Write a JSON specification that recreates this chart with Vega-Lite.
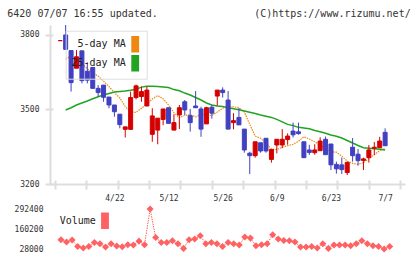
{
  "$schema": "https://vega.github.io/schema/vega-lite/v6.json",
  "background": "white",
  "padding": {"left": 7, "top": 8, "right": 4, "bottom": 3},
  "title": {
    "text": "6420 07/07 16:55 updated.\u00a0\u00a0\u00a0\u00a0\u00a0\u00a0\u00a0\u00a0\u00a0\u00a0\u00a0\u00a0\u00a0\u00a0\u00a0\u00a0(C)https://www.rizumu.net/",
    "anchor": "start",
    "frame": "group",
    "dx": -42.7,
    "offset": 6,
    "font": "DejaVu Sans Mono",
    "fontSize": 10,
    "fontWeight": "normal",
    "color": "#333333"
  },
  "datasets": {
    "prices": [
      {"date":"4/8","i":-1,"open":3777,"high":3777,"low":3777,"close":3777,"volume":null,"ma5":null,"ma25":null},
      {"date":"4/9","i":0,"open":3800,"high":3840,"low":3742,"close":3742,"volume":89000,"ma5":3702,"ma25":3498},
      {"date":"4/10","i":1,"open":3737,"high":3737,"low":3572,"close":3608,"volume":74000,"ma5":3716,"ma25":3507},
      {"date":"4/13","i":2,"open":3666,"high":3739,"low":3666,"close":3712,"volume":87000,"ma5":3702,"ma25":3518},
      {"date":"4/14","i":3,"open":3736,"high":3736,"low":3605,"close":3616,"volume":45000,"ma5":3684,"ma25":3526},
      {"date":"4/15","i":4,"open":3654,"high":3690,"low":3605,"close":3618,"volume":35000,"ma5":3664,"ma25":3534},
      {"date":"4/16","i":5,"open":3669,"high":3669,"low":3585,"close":3585,"volume":45000,"ma5":3648,"ma25":3543},
      {"date":"4/17","i":6,"open":3585,"high":3598,"low":3552,"close":3568,"volume":71000,"ma5":3634,"ma25":3551},
      {"date":"4/20","i":7,"open":3598,"high":3598,"low":3531,"close":3549,"volume":63000,"ma5":3614,"ma25":3558},
      {"date":"4/21","i":8,"open":3550,"high":3550,"low":3505,"close":3518,"volume":41000,"ma5":3592,"ma25":3564},
      {"date":"4/22","i":9,"open":3518,"high":3518,"low":3471,"close":3491,"volume":63000,"ma5":3568,"ma25":3570},
      {"date":"4/23","i":10,"open":3481,"high":3481,"low":3424,"close":3439,"volume":48000,"ma5":3546,"ma25":3572},
      {"date":"4/24","i":11,"open":3420,"high":3430,"low":3387,"close":3430,"volume":43000,"ma5":3512,"ma25":3574},
      {"date":"4/27","i":12,"open":3420,"high":3572,"low":3420,"close":3548,"volume":56000,"ma5":3490,"ma25":3577},
      {"date":"4/28","i":13,"open":3548,"high":3600,"low":3540,"close":3595,"volume":54000,"ma5":3488,"ma25":3581},
      {"date":"4/30","i":14,"open":3552,"high":3592,"low":3531,"close":3572,"volume":80000,"ma5":3505,"ma25":3590},
      {"date":"5/1","i":15,"open":3514,"high":3592,"low":3514,"close":3578,"volume":56000,"ma5":3522,"ma25":3593},
      {"date":"5/7","i":16,"open":3400,"high":3505,"low":3370,"close":3474,"volume":292400,"ma5":3542,"ma25":3593},
      {"date":"5/8","i":17,"open":3417,"high":3465,"low":3360,"close":3465,"volume":104000,"ma5":3556,"ma25":3592},
      {"date":"5/11","i":18,"open":3460,"high":3502,"low":3437,"close":3502,"volume":71000,"ma5":3543,"ma25":3590},
      {"date":"5/12","i":19,"open":3507,"high":3507,"low":3444,"close":3444,"volume":71000,"ma5":3518,"ma25":3588},
      {"date":"5/13","i":20,"open":3417,"high":3481,"low":3417,"close":3447,"volume":82000,"ma5":3487,"ma25":3580},
      {"date":"5/14","i":21,"open":3478,"high":3518,"low":3421,"close":3507,"volume":63000,"ma5":3467,"ma25":3575},
      {"date":"5/15","i":22,"open":3531,"high":3538,"low":3478,"close":3498,"volume":32000,"ma5":3476,"ma25":3566},
      {"date":"5/18","i":23,"open":3475,"high":3502,"low":3411,"close":3447,"volume":89000,"ma5":3479,"ma25":3558},
      {"date":"5/19","i":24,"open":3514,"high":3574,"low":3507,"close":3507,"volume":94000,"ma5":3470,"ma25":3548},
      {"date":"5/20","i":25,"open":3502,"high":3511,"low":3390,"close":3421,"volume":115000,"ma5":3480,"ma25":3538},
      {"date":"5/21","i":26,"open":3442,"high":3511,"low":3442,"close":3507,"volume":63000,"ma5":3478,"ma25":3526},
      {"date":"5/22","i":27,"open":3509,"high":3518,"low":3463,"close":3485,"volume":71000,"ma5":3476,"ma25":3518},
      {"date":"5/25","i":28,"open":3554,"high":3578,"low":3515,"close":3578,"volume":63000,"ma5":3490,"ma25":3514},
      {"date":"5/26","i":29,"open":3578,"high":3589,"low":3548,"close":3568,"volume":45000,"ma5":3505,"ma25":3512},
      {"date":"5/27","i":30,"open":3538,"high":3574,"low":3421,"close":3421,"volume":71000,"ma5":3510,"ma25":3507},
      {"date":"5/28","i":31,"open":3447,"high":3485,"low":3420,"close":3455,"volume":63000,"ma5":3511,"ma25":3503},
      {"date":"5/29","i":32,"open":3468,"high":3505,"low":3438,"close":3438,"volume":54000,"ma5":3507,"ma25":3499},
      {"date":"6/1","i":33,"open":3421,"high":3421,"low":3326,"close":3337,"volume":107000,"ma5":3490,"ma25":3494},
      {"date":"6/2","i":34,"open":3324,"high":3330,"low":3240,"close":3314,"volume":100000,"ma5":3440,"ma25":3489},
      {"date":"6/3","i":35,"open":3314,"high":3370,"low":3306,"close":3370,"volume":50000,"ma5":3393,"ma25":3484},
      {"date":"6/4","i":36,"open":3366,"high":3366,"low":3326,"close":3333,"volume":56000,"ma5":3384,"ma25":3478},
      {"date":"6/5","i":37,"open":3384,"high":3384,"low":3326,"close":3333,"volume":63000,"ma5":3365,"ma25":3473},
      {"date":"6/8","i":38,"open":3299,"high":3339,"low":3286,"close":3339,"volume":122000,"ma5":3341,"ma25":3468},
      {"date":"6/9","i":39,"open":3357,"high":3380,"low":3323,"close":3380,"volume":94000,"ma5":3338,"ma25":3460},
      {"date":"6/10","i":40,"open":3357,"high":3421,"low":3344,"close":3380,"volume":84000,"ma5":3348,"ma25":3450},
      {"date":"6/11","i":41,"open":3379,"high":3404,"low":3358,"close":3393,"volume":82000,"ma5":3354,"ma25":3440},
      {"date":"6/12","i":42,"open":3413,"high":3447,"low":3387,"close":3398,"volume":74000,"ma5":3360,"ma25":3435},
      {"date":"6/15","i":43,"open":3410,"high":3447,"low":3398,"close":3403,"volume":41000,"ma5":3372,"ma25":3428},
      {"date":"6/16","i":44,"open":3370,"high":3370,"low":3306,"close":3306,"volume":41000,"ma5":3390,"ma25":3425},
      {"date":"6/17","i":45,"open":3337,"high":3358,"low":3317,"close":3327,"volume":45000,"ma5":3381,"ma25":3422},
      {"date":"6/18","i":46,"open":3326,"high":3360,"low":3318,"close":3337,"volume":35000,"ma5":3370,"ma25":3415},
      {"date":"6/19","i":47,"open":3334,"high":3388,"low":3334,"close":3373,"volume":63000,"ma5":3357,"ma25":3410},
      {"date":"6/22","i":48,"open":3380,"high":3391,"low":3318,"close":3318,"volume":32000,"ma5":3342,"ma25":3404},
      {"date":"6/23","i":49,"open":3361,"high":3361,"low":3256,"close":3277,"volume":54000,"ma5":3330,"ma25":3397},
      {"date":"6/24","i":50,"open":3279,"high":3290,"low":3242,"close":3261,"volume":54000,"ma5":3328,"ma25":3392},
      {"date":"6/25","i":51,"open":3277,"high":3306,"low":3240,"close":3258,"volume":54000,"ma5":3312,"ma25":3385},
      {"date":"6/26","i":52,"open":3246,"high":3290,"low":3236,"close":3287,"volume":50000,"ma5":3292,"ma25":3375},
      {"date":"6/29","i":53,"open":3348,"high":3385,"low":3290,"close":3314,"volume":63000,"ma5":3283,"ma25":3365},
      {"date":"6/30","i":54,"open":3320,"high":3341,"low":3274,"close":3294,"volume":82000,"ma5":3279,"ma25":3355},
      {"date":"7/1","i":55,"open":3295,"high":3306,"low":3256,"close":3301,"volume":63000,"ma5":3286,"ma25":3346},
      {"date":"7/2","i":56,"open":3306,"high":3357,"low":3286,"close":3337,"volume":50000,"ma5":3302,"ma25":3344},
      {"date":"7/3","i":57,"open":3344,"high":3369,"low":3317,"close":3348,"volume":45000,"ma5":3318,"ma25":3342},
      {"date":"7/6","i":58,"open":3346,"high":3390,"low":3346,"close":3373,"volume":28000,"ma5":3334,"ma25":3340},
      {"date":"7/7","i":59,"open":3408,"high":3424,"low":3354,"close":3354,"volume":45000,"ma5":3344,"ma25":3337}
    ]
  },
  "data": {"name": "prices"},
  "spacing": 25,
  "bounds": "flush",
  "vconcat": [
    {
      "width": 355,
      "height": 159,
      "layer": [
        {
          "mark": {"type": "line", "strokeWidth": 1.2, "strokeDash": [1.5, 1]},
          "encoding": {
            "x": {
              "field": "i", "type": "quantitative",
              "scale": {"domain": [-1.97, 61.75], "nice": false, "zero": false},
              "axis": {
                "orient": "bottom", "title": null, "labels": false, "domain": false,
                "values": [-1.97, 3.823, 9.615, 15.408, 21.201, 26.994, 32.786, 38.579, 44.372, 50.164, 55.957, 61.75],
                "tickSize": 9, "offset": -4, "tickColor": "#dddddd", "tickWidth": 2, "grid": false
              }
            },
            "y": {
              "field": "ma5", "type": "quantitative",
              "scale": {"domain": [3200, 3840], "nice": false, "zero": false},
              "axis": {
                "orient": "left", "title": null, "labels": false, "domain": false,
                "values": [3200, 3500, 3800],
                "tickSize": 8, "offset": -3, "tickColor": "#dddddd", "tickWidth": 2, "grid": false
              }
            },
            "color": {
              "datum": "5-day MA", "type": "nominal",
              "scale": {"domain": ["5-day MA", "25-day MA"], "range": ["#ee8811", "#22a322"]},
              "legend": {
                "orient": "none", "legendX": 15.7, "legendY": 5.7, "title": null,
                "padding": 5, "strokeColor": "#dddddd",
                "symbolType": "M-0.42,-1H0.42V1H-0.42Z", "symbolSize": 225,
                "symbolStrokeWidth": 1.5, "symbolStrokeColor": "#333333",
                "labelFont": "DejaVu Sans Mono", "labelFontSize": 10, "labelColor": "#222222",
                "labelAlign": "right", "labelOffset": -18, "symbolOffset": 56,
                "rowPadding": -3,
                "encode": {
                  "symbols": {
                    "update": {
                      "fill": {"signal": "scale('concat_0_color', datum.value)"}
                    }
                  }
                }
              }
            }
          }
        },
        {
          "mark": {"type": "line", "strokeWidth": 1.5},
          "encoding": {
            "x": {
              "field": "i", "type": "quantitative",
              "axis": {
                "orient": "bottom", "title": null, "ticks": false, "domain": true,
                "domainColor": "#dddddd", "domainWidth": 2,
                "values": [9, 19, 29, 39, 49, 59],
                "labelExpr": "data('prices')[datum.value + 1].date",
                "labelPadding": 10, "labelFlush": false, "labelOverlap": false,
                "labelFont": "DejaVu Sans Mono", "labelFontSize": 8, "labelColor": "#333333", "grid": false
              }
            },
            "y": {
              "field": "ma25", "type": "quantitative",
              "axis": {
                "orient": "left", "title": null, "ticks": false, "domain": true,
                "domainColor": "#dddddd", "domainWidth": 2,
                "values": [3200, 3500, 3800], "format": "d",
                "labelPadding": 11, "labelFlush": false, "labelOverlap": false,
                "labelFont": "DejaVu Sans Mono", "labelFontSize": 8, "labelColor": "#333333", "grid": false
              }
            },
            "color": {"datum": "25-day MA", "type": "nominal"}
          }
        },
        {
          "mark": {"type": "rule", "strokeWidth": 1},
          "encoding": {
            "x": {"field": "i", "type": "quantitative", "axis": null},
            "y": {"field": "low", "type": "quantitative", "axis": null},
            "y2": {"field": "high"},
            "color": {"condition": {"test": "datum.close >= datum.open", "value": "#d40000"}, "value": "#4040c0"}
          }
        },
        {
          "mark": {"type": "bar", "size": 4, "strokeWidth": 1},
          "encoding": {
            "x": {"field": "i", "type": "quantitative", "axis": null},
            "y": {"field": "open", "type": "quantitative", "axis": null},
            "y2": {"field": "close"},
            "color": {"condition": {"test": "datum.close >= datum.open", "value": "#d40000"}, "value": "#4040c0"},
            "stroke": {"condition": {"test": "datum.close >= datum.open", "value": "#d40000"}, "value": "#4040c0"}
          }
        }
      ],
      "resolve": {"axis": {"x": "independent", "y": "independent"}}
    },
    {
      "width": 355,
      "height": 40,
      "layer": [
        {
          "mark": {"type": "line", "strokeWidth": 1, "strokeDash": [1.5, 1]},
          "encoding": {
            "x": {
              "field": "i", "type": "quantitative",
              "scale": {"domain": [-1.97, 61.75], "nice": false, "zero": false},
              "axis": null
            },
            "y": {
              "field": "volume", "type": "quantitative",
              "scale": {"domain": [28000, 292400], "nice": false, "zero": false},
              "axis": {
                "orient": "left", "title": null, "ticks": false, "domain": false,
                "values": [28000, 160200, 292400], "format": "d",
                "labelPadding": 7, "labelFlush": false, "labelOverlap": false,
                "labelFont": "DejaVu Sans Mono", "labelFontSize": 8, "labelColor": "#333333", "grid": false
              }
            },
            "color": {
              "datum": "Volume", "type": "nominal",
              "scale": {"domain": ["Volume"], "range": ["#ff6262"]},
              "legend": {
                "orient": "none", "legendX": 9, "legendY": 3.3, "title": null,
                "padding": 0,
                "symbolType": "M-0.42,-1H0.42V1H-0.42Z", "symbolSize": 225,
                "symbolStrokeWidth": 1.5, "symbolStrokeColor": "#333333",
                "labelFont": "DejaVu Sans Mono", "labelFontSize": 10, "labelColor": "#222222",
                "labelAlign": "right", "labelOffset": -17.7, "symbolOffset": 37.5,
                "encode": {
                  "symbols": {
                    "update": {
                      "fill": {"signal": "scale('concat_1_color', datum.value)"}
                    }
                  }
                }
              }
            }
          }
        },
        {
          "mark": {"type": "point", "shape": "diamond", "filled": true, "size": 50, "opacity": 1},
          "encoding": {
            "x": {"field": "i", "type": "quantitative", "axis": null},
            "y": {
              "field": "volume", "type": "quantitative",
              "axis": {
                "orient": "left", "title": null, "ticks": false, "domain": false,
                "values": [28000, 160200, 292400], "format": "d",
                "labelPadding": 7, "labelFlush": false, "labelOverlap": false,
                "labelFont": "DejaVu Sans Mono", "labelFontSize": 8, "labelColor": "#333333", "grid": false
              }
            },
            "color": {"datum": "Volume", "type": "nominal"}
          }
        }
      ]
    }
  ],
  "resolve": {"scale": {"color": "independent"}, "legend": {"color": "independent"}},
  "config": {
    "view": {"stroke": null}
  }
}
